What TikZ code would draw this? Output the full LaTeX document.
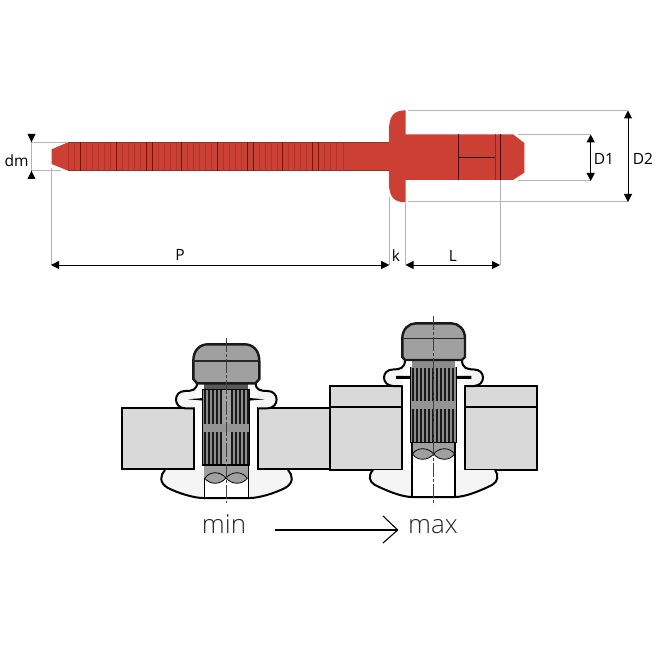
\documentclass[tikz,border=0pt]{standalone}
\usepackage{fontspec}
\setmainfont{Open Sans}
\newfontfamily\lightfont{Open Sans Light}
\usetikzlibrary{arrows.meta}
\definecolor{rivetred}{HTML}{CC4033}
\definecolor{groove}{HTML}{8E2A22}
\definecolor{dimgray}{HTML}{B4B4B4}
\definecolor{capgray}{HTML}{A0A0A0}
\definecolor{platefill}{HTML}{D9D9D9}
\tikzset{
	dimline/.style={draw=dimgray,line width=1pt},
	dimtip/.style={{Triangle[length=8pt,width=8pt]}-{Triangle[length=8pt,width=8pt]},draw=dimgray,line width=1pt,color=black},
	plate/.style={draw=black,fill=platefill,line width=2pt},
	flange/.style={draw=black,fill=white!96!black,line width=2pt},
	capbox/.style={draw=black!90,fill=capgray,line width=2.4pt},
	dimlabel/.style={font=\fontsize{15.5}{15.5}\selectfont,inner sep=0pt},
	bigtext/.style={font=\lightfont\fontsize{26}{26}\selectfont,inner sep=0pt,anchor=base,text=black!85}
}
\begin{document}
\begin{tikzpicture}[x=1pt,y=-1pt]
	\useasboundingbox (0,0) rectangle (660,660);
	% rivet
	\fill[rivetred] (51.7,149.3) -- (68,142.3) -- (389,142.3) -- (389,170.7) -- (68,170.7) -- (51.7,164) -- cycle;
	\draw[rivetred!75!black,line width=.4pt] (68,142.3) -- (389,142.3) (68,170.7) -- (389,170.7);
	\foreach \x in {68,74,86,92,98,104,110,122,128,134,140,158,164,170,176,187,193,199,205,211,223,229,235,241,259,265,271,277,288,294,300,306,324,330,336,343}
		\draw[groove!50!rivetred,line width=.5pt] (\x,142.3) -- (\x,170.7);
	\foreach \x in {80.3,116.3,146,152,181.3,217.3,247,253,282.3,312.3,318.3}
		\draw[groove!70!black,line width=.8pt] (\x,142.3) -- (\x,170.7);
	\fill[rivetred] (405.5,110.3) .. controls (394,110.3) and (389,116) .. (389,130) -- (389,183) .. controls (389,197) and (394,202.3) .. (405.5,202.3) -- (405.5,180) -- (513,180) -- (524.3,172.7) -- (524.3,143) -- (513,134.3) -- (405.5,134.3) -- cycle;
	\draw[black!70!groove,line width=.7pt] (458.3,134.3) -- (458.3,180) (458.3,157.3) -- (495,157.3) (500,134.3) -- (500,180);
	\draw[groove,line width=.4pt] (495,134.3) -- (495,180);
	% dimensions
	\draw[dimline] (32,142.3) -- (68,142.3) (32,170.7) -- (61,170.7);
	\draw[dimline] (51,168) -- (51,265) (389,197) -- (389,265) (405.5,203) -- (405.5,265) (500,180) -- (500,265);
	\draw[dimline] (518,134.5) -- (591,134.5) (518,181) -- (591,181);
	\draw[dimline] (408,110.5) -- (628,110.5) (408,202) -- (628,202);
	\draw[dimline] (31.5,142.3) -- (31.5,170.7);
	\fill (27.5,134) -- (35.5,134) -- (31.5,142.3) -- cycle;
	\fill (27.5,179) -- (35.5,179) -- (31.5,170.7) -- cycle;
	\draw[dimtip] (51,265) -- (389,265);
	\draw[dimtip] (405.5,265) -- (500,265);
	\fill (381,261) -- (381,269) -- (389,265) -- cycle;
	\draw[dimtip] (590.7,134.5) -- (590.7,181);
	\draw[dimtip] (628,110.5) -- (628,202);
	\node[dimlabel] (dm) at (16.5,160.5) {dm};
	\node[dimlabel] (P) at (180,255) {P};
	\node[dimlabel] (k) at (396,256) {k};
	\node[dimlabel] (L) at (453,256) {L};
	\node[dimlabel] (D1) at (604,158.5) {D1};
	\node[dimlabel] (D2) at (643,158.5) {D2};
	% plates
	\draw[plate] (122.3,408.3) rectangle (194.3,469.3);
	\draw[plate] (258.3,408.3) rectangle (330,469.3);
	\draw[plate] (330,386) rectangle (402.3,470);
	\draw[plate] (465,386) rectangle (536.7,470);
	\draw[black,line width=2pt] (330,407.3) -- (402.3,407.3) (465,407.3) -- (536.7,407.3);
	% min
	\draw[flange] (165,470) .. controls (160,475) and (159,483) .. (168,488) .. controls (180,494) and (195,498) .. (203,498) -- (250,498) .. controls (258,498) and (273,494) .. (285,488) .. controls (294,483) and (293,475) .. (288,470);
	\fill[white] (204,470) rectangle (248,497);
	\draw[flange] (197,383) .. controls (197,390) and (192,391) .. (185,391) .. controls (173,391) and (173,408) .. (185,408.3) -- (194.3,408.3);
	\draw[flange] (255.6,383) .. controls (255.6,390) and (260.6,391) .. (267.6,391) .. controls (279.6,391) and (279.6,408) .. (267.6,408.3) -- (258.3,408.3);
	\fill[black] (188,399.3) -- (203,398) -- (203,400.6) -- cycle (264.6,399.3) -- (249.6,398) -- (249.6,400.6) -- cycle;
	\draw[black,line width=.8pt] (204,465) -- (204,498) (248,465) -- (248,498);
	\fill[capgray] (204.4,465) rectangle (247.6,478);
	\fill[capgray,draw=black,line width=.8pt] (204.4,478) .. controls (210,485) and (220,485) .. (226,478) .. controls (232,485) and (242,485) .. (247.6,478);
	\draw[black,line width=.8pt] (205,478) .. controls (210,471) and (220,471) .. (226,478) .. controls (232,471) and (242,471) .. (247,478);
	\fill[black!45] (202.7,389.5) rectangle (249.3,465);
	\fill[capgray] (221,390) rectangle (232,465);
	\foreach \x in {205,209,213,217,221,232,236,240,244,248}
		\draw[black!90,line width=1.1pt] (\x,390) -- (\x,465);
	\fill[black!42] (202.7,424) rectangle (249.3,431.7);
	\draw[black,line width=1.5pt] (202.7,389.5) rectangle (249.3,465);
	\fill[black!65] (204.3,383) rectangle (248.3,389);
	\draw[capbox] (197,383.3) -- (193.3,379) -- (193.3,361) .. controls (193.3,350) and (200,344.3) .. (208,344.3) -- (244.6,344.3) .. controls (252.6,344.3) and (259.3,350) .. (259.3,361) -- (259.3,379) -- (255.6,383.3) -- cycle;
	\draw[black!85,line width=1.4pt] (193.3,361) -- (259.3,361);
	\draw[black!75,line width=.9pt,dash pattern=on 14pt off 2pt on 3pt off 2pt] (226.3,338) -- (226.3,503);
	% max
	\draw[flange] (373,470) .. controls (368,475) and (369,482) .. (375,485) .. controls (387,491) and (402,497) .. (412,497) -- (455,497) .. controls (465,497) and (480,491) .. (492,485) .. controls (498,482) and (499,475) .. (495,470);
	\fill[white] (412,450) rectangle (455,496);
	\draw[flange] (405,360) .. controls (405,368) and (400,369.5) .. (393,369.5) .. controls (381,369.5) and (381,385.5) .. (393,386) -- (402.3,386);
	\draw[flange] (462,360) .. controls (462,368) and (467,369.5) .. (474,369.5) .. controls (486,369.5) and (486,385.5) .. (474,386) -- (465,386);
	\fill[black] (396,375.8) rectangle (410.7,378.8) (471.4,375.8) rectangle (456.7,378.8);
	\fill[capgray] (412,442) rectangle (455,454);
	\fill[capgray,draw=black,line width=.8pt] (412.5,454) .. controls (417,461) and (428,461) .. (433.7,454) .. controls (439,461) and (450,461) .. (454.5,454);
	\draw[black,line width=.8pt] (412.5,454) .. controls (417,447) and (428,447) .. (433.7,454) .. controls (439,447) and (450,447) .. (454.5,454);
	\draw[black,line width=2.4pt] (412,442) -- (412,497) (455,442) -- (455,497);
	\fill[black!45] (410.7,367.3) rectangle (456.7,442.3);
	\foreach \x in {413,417,...,456}
		\draw[black!90,line width=1.1pt] (\x,368) -- (\x,442);
	\fill[black!42] (410.7,401) rectangle (456.7,409.3);
	\draw[black,line width=1.5pt] (410.7,367.3) -- (410.7,442.3) -- (456.7,442.3) -- (456.7,367.3);
	\fill[black!45] (412.3,360) rectangle (455,367.3);
	\draw[capbox] (405,360) -- (402.3,357) -- (402.3,338.3) .. controls (402.3,329) and (409,323.3) .. (416,323.3) -- (451.3,323.3) .. controls (458.3,323.3) and (465,329) .. (465,338.3) -- (465,357) -- (462,360) -- cycle;
	\draw[black!85,line width=1.4pt] (402.3,338.3) -- (465,338.3);
	\draw[black!75,line width=.9pt,dash pattern=on 14pt off 2pt on 3pt off 2pt] (433.7,316) -- (433.7,505);
	% labels
	\node[bigtext] (min) at (224,533.3) {min};
	\node[bigtext] (max) at (433,533.3) {max};
	\coordinate (arrowstart) at (275,530);
	\coordinate (arrowend) at (397.7,530);
	\draw[black,line width=1.1pt] (arrowstart) -- (arrowend);
	\draw[black,line width=1.1pt] (383,516) -- (arrowend) -- (383,543);
\end{tikzpicture}
\end{document}
